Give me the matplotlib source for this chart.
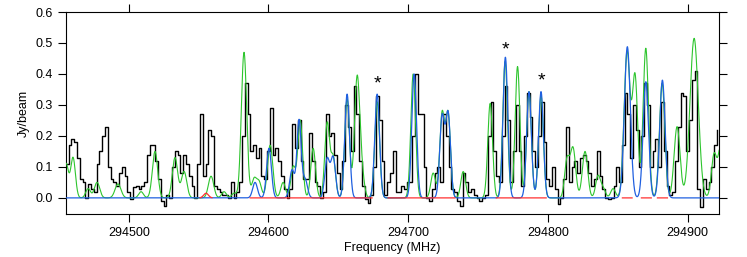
import numpy as np
import matplotlib
matplotlib.use('Agg')
import matplotlib.pyplot as plt

plt.rcParams['font.family'] = ['Liberation Sans', 'DejaVu Sans']

# observed spectrum, 2 MHz channels starting at 294455 MHz
f0 = 294455.0
dchan = 2.0
obs = [0.11, 0.17, 0.19, 0.18, 0.13, 0.06, 0.05, 0.0, 0.045, 0.03,
       0.02, 0.11, 0.15, 0.2, 0.23, 0.1, 0.06, 0.05, 0.04, 0.08,
       0.1, 0.07, 0.02, -0.005, 0.035, 0.04, 0.03, 0.04, 0.05, 0.14,
       0.17, 0.17, 0.12, 0.06, -0.01, -0.025, 0.01, 0.0, 0.1, 0.15,
       0.14, 0.08, 0.14, 0.11, 0.07, 0.04, 0.0, 0.11, 0.27, 0.07,
       0.11, 0.22, 0.2, 0.04, 0.03, 0.02, 0.01, 0.01, 0.0, 0.05,
       0.0, 0.02, 0.05, 0.2, 0.37, 0.27, 0.15, 0.17, 0.13, 0.16,
       0.07, 0.06, 0.15, 0.29, 0.14, 0.16, 0.12, 0.07, 0.03, 0.0,
       0.03, 0.24, 0.16, 0.25, 0.12, 0.06, 0.06, 0.21, 0.12, 0.05,
       0.04, 0.0, 0.02, 0.27, 0.2, 0.21, 0.14, 0.08, 0.03, 0.12,
       0.3, 0.23, 0.15, 0.36, 0.27, 0.12, 0.04, -0.005, -0.015, 0.01,
       0.1, 0.33, 0.25, 0.12, 0.01, 0.05, 0.08, 0.15, 0.02, 0.02,
       0.04, 0.03, 0.05, 0.05, 0.2, 0.4, 0.27, 0.27, 0.1, 0.0,
       -0.01, 0.03, 0.08, 0.1, 0.05, 0.27, 0.2, 0.1, 0.03, 0.02,
       -0.01, -0.025, 0.08, 0.05, 0.02, 0.03, 0.01, 0.0, -0.01, 0.0,
       0.01, 0.2, 0.31, 0.15, 0.07, 0.05, 0.2, 0.36, 0.25, 0.05,
       0.15, 0.3, 0.15, 0.04, 0.2, 0.34, 0.26, 0.15, 0.1, 0.2,
       0.31, 0.18, 0.06, 0.04, 0.1, 0.03, -0.02, 0.0, 0.06, 0.23,
       0.05, 0.1, 0.12, 0.08, 0.13, 0.14, 0.12, 0.08, 0.04, 0.06,
       0.15, 0.07, 0.03, 0.0, -0.005, 0.0, 0.04, 0.1, 0.05, 0.17,
       0.34, 0.27, 0.13, 0.3, 0.22, 0.1, 0.2, 0.37, 0.3, 0.1,
       0.15, 0.19, 0.1, 0.31, 0.15, 0.04, 0.01, 0.02, 0.12, 0.23,
       0.34, 0.33, 0.15, 0.25, 0.38, 0.41, 0.03, -0.03, 0.06, 0.03,
       0.05, 0.1, 0.17, 0.22]

# model line lists: centre (MHz), peak (Jy/beam), FWHM (MHz)
green_freq = [294455.1, 294460.1, 294470.9, 294477.3, 294492.3, 294508.8,
              294518.8, 294533.1, 294539.6, 294558.9, 294568.2, 294575.4,
              294582.5, 294589.7, 294593.3, 294601.2, 294610.5, 294617.7,
              294622.7, 294632.0, 294642.0, 294646.3, 294656.3, 294663.5,
              294667.1, 294677.8, 294703.6, 294717.9, 294724.3, 294728.6,
              294739.4, 294758.7, 294769.4, 294778.3, 294786.5, 294795.1,
              294813.7, 294818.0, 294826.6, 294835.9, 294839.5, 294846.7,
              294856.7, 294862.4, 294870.1, 294881.8, 294892.5, 294904.7,
              294919.0, 294924.0]
green_peak = [0.11, 0.13, 0.03, 0.05, 0.045, 0.02,
              0.15, 0.13, 0.085, 0.07, 0.02, 0.015,
              0.47, 0.06, 0.05, 0.17, 0.05, 0.1,
              0.25, 0.16, 0.24, 0.13, 0.32, 0.39,
              0.06, 0.31, 0.4, 0.08, 0.27, 0.27,
              0.085, 0.305, 0.44, 0.424, 0.343, 0.33,
              0.12, 0.16, 0.15, 0.07, 0.03, 0.03,
              0.47, 0.39, 0.483, 0.37, 0.23, 0.515,
              0.14, 0.17]
green_fwhm = [4, 4, 4, 4.5, 5, 4,
              4.5, 4.5, 4.5, 4.5, 4, 4,
              4.5, 4, 4, 4.5, 4, 4,
              4, 4, 4, 4, 4, 4.5,
              4, 4, 4, 4, 4, 4,
              4, 4, 4, 4, 4, 4,
              4, 4.5, 4.5, 4, 4, 4,
              5, 4.5, 4.5, 4.5, 5, 7,
              4.5, 4.5]

blue_freq = [294590.4, 294600.4, 294616.9, 294621.9, 294626.2, 294642.0,
             294646.3, 294656.3, 294677.8, 294704.3, 294724.3, 294728.6,
             294769.6, 294786.5, 294795.1, 294856.9, 294870.1, 294882.0]
blue_peak = [0.05, 0.16, 0.09, 0.25, 0.06, 0.125,
             0.13, 0.335, 0.335, 0.40, 0.26, 0.27,
             0.454, 0.343, 0.343, 0.488, 0.375, 0.38]
blue_fwhm = [4, 4, 4, 3.6, 4, 4,
             4, 4, 4, 4, 4, 4,
             4, 4, 4, 5, 4.5, 4.5]

red_freq = [294555.3]
red_peak = [0.015]
red_fwhm = [4]
# frequency windows where the red model is drawn
red_windows = [(294551.0, 294559.6), (294586.8, 294674.2), (294685.6, 294733.6),
               (294763.1, 294798.9), (294853.3, 294860.4), (294866.9, 294874.1),
               (294878.4, 294885.6)]

# marked lines
star_freq = [294677.8, 294769.6, 294795.1]
star_y = [0.34, 0.45, 0.35]

xmin, xmax = 294455.1, 294922.5


def model(fr, cen, amp, fw):
    out = np.zeros_like(fr)
    for c, a, w in zip(cen, amp, fw):
        s = w / 2.3548
        out += a * np.exp(-0.5 * ((fr - c) / s) ** 2)
    return out


fr = np.linspace(xmin - 5, xmax + 5, 4000)
green = model(fr, green_freq, green_peak, green_fwhm)
blue = model(fr, blue_freq, blue_peak, blue_fwhm)
red = model(fr, red_freq, red_peak, red_fwhm)
inside = np.zeros(fr.shape, dtype=bool)
for a, b in red_windows:
    inside |= (fr >= a) & (fr <= b)
red = np.where(inside, red, np.nan)

chan = f0 + dchan * np.arange(len(obs))

fig = plt.figure(figsize=(7.47, 2.57), dpi=100)
ax = fig.add_axes([0.0884, 0.1673, 0.8741, 0.786])

ax.step(chan, obs, where='post', color='black', lw=1.0, zorder=2)
ax.plot(fr, green, color='#2ec52e', lw=0.8, zorder=3)
ax.plot(fr, blue, color='#2060e0', lw=0.9, zorder=4)
ax.plot(fr, red, color='#ff3030', lw=0.9, zorder=5)

for f, y in zip(star_freq, star_y):
    ax.text(f, y, '*', ha='center', va='bottom', fontsize=14, color='black')

ax.set_xlim(xmin, xmax)
ax.set_ylim(-0.052, 0.6)
ax.set_xticks([294500, 294600, 294700, 294800, 294900])
ax.set_yticks(np.arange(0, 0.61, 0.1))
ax.set_yticklabels(['%.1f' % v for v in np.arange(0, 0.61, 0.1)])
ax.tick_params(direction='out', length=6, width=0.8, labelsize=9,
               top=True, right=True, labeltop=False, labelright=False)
for sp in ax.spines.values():
    sp.set_linewidth(0.8)
ax.set_xlabel('Frequency (MHz)', fontsize=9, labelpad=2)
ax.set_ylabel('Jy/beam', fontsize=9, labelpad=4)

fig.savefig('out.png', dpi=100)
